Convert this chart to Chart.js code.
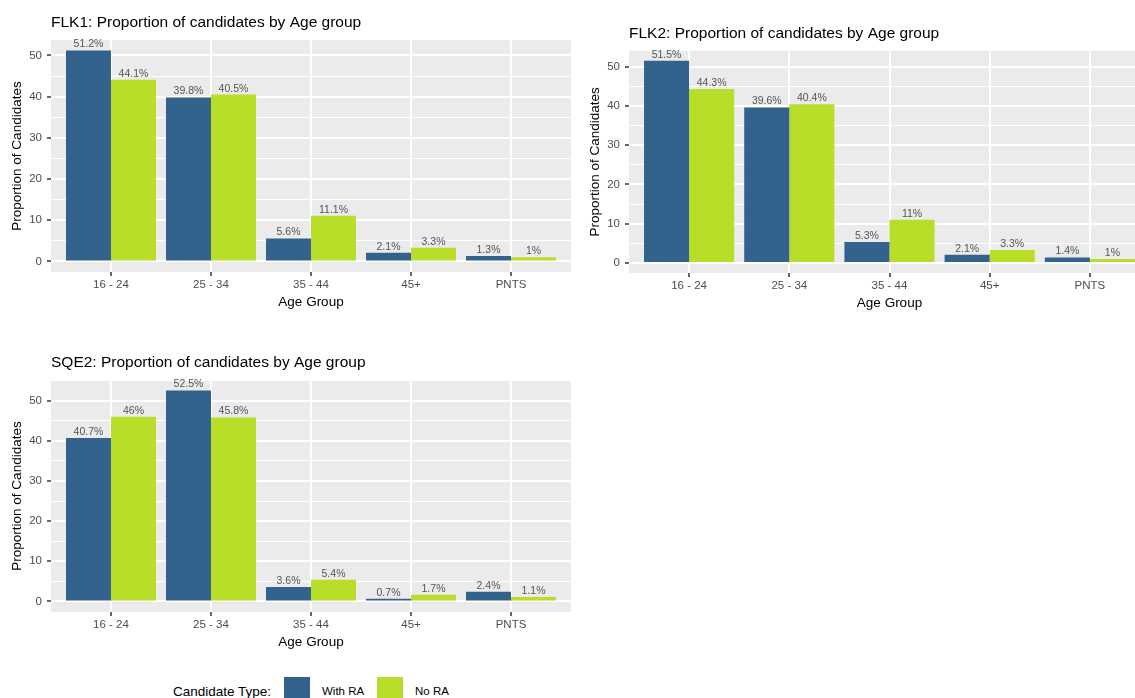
<!DOCTYPE html>
<html>
<head>
<meta charset="utf-8">
<script src="https://cdn.jsdelivr.net/npm/chart.js@4.4.1/dist/chart.umd.min.js"></script>
<style>
  html, body { margin:0; padding:0; background:#ffffff; width:1135px; height:698px; overflow:hidden; position:relative; }
  canvas { position:absolute; display:block; }
  .lg { position:absolute; font-family:"Liberation Sans", Arial, sans-serif; white-space:nowrap; line-height:1; }
  .key { position:absolute; width:26px; height:26px; }
</style>
</head>
<body>
<canvas id="c1" width="571" height="310" style="left:0px;top:0px"></canvas>
<canvas id="c2" width="572" height="311" style="left:578px;top:0px"></canvas>
<canvas id="c3" width="571" height="310" style="left:0px;top:340px"></canvas>

<div class="lg" id="lgTitle" style="left:173px;top:685px;font-size:13.5px;color:#000">Candidate Type:</div>
<div class="key" id="key1" style="left:284px;top:677px"></div>
<div class="lg" id="lgLab1" style="left:322px;top:686px;font-size:11.5px;color:#000"></div>
<div class="key" id="key2" style="left:377px;top:677px"></div>
<div class="lg" id="lgLab2" style="left:415px;top:686px;font-size:11.5px;color:#000"></div>

<script>
// ---------- data ----------
const categories = ['16 - 24', '25 - 34', '35 - 44', '45+', 'PNTS'];
const seriesNames = ['With RA', 'No RA'];
const seriesColors = ['#33638D', '#B8DE29'];

const flk1WithRA = [51.2, 39.8, 5.6, 2.1, 1.3];
const flk1NoRA   = [44.1, 40.5, 11.1, 3.3, 1];
const flk2WithRA = [51.5, 39.6, 5.3, 2.1, 1.4];
const flk2NoRA   = [44.3, 40.4, 11, 3.3, 1];
const sqe2WithRA = [40.7, 52.5, 3.6, 0.7, 2.4];
const sqe2NoRA   = [46, 45.8, 5.4, 1.7, 1.1];

const yMajorTicks = [0, 10, 20, 30, 40, 50];
const yMinorTicks = [5, 15, 25, 35, 45, 55];

const titleFLK1 = 'FLK1: Proportion of candidates by Age group';
const titleFLK2 = 'FLK2: Proportion of candidates by Age group';
const titleSQE2 = 'SQE2: Proportion of candidates by Age group';
const xTitle = 'Age Group';
const yTitle = 'Proportion of Candidates';

// ---------- legend (html text) ----------
document.getElementById('key1').style.background = seriesColors[0];
document.getElementById('key2').style.background = seriesColors[1];
document.getElementById('lgLab1').textContent = seriesNames[0];
document.getElementById('lgLab2').textContent = seriesNames[1];

// ---------- chart helpers ----------
const FONT = '"Liberation Sans", Arial, Helvetica, sans-serif';
Chart.defaults.font.family = FONT;

const panelBg = {
  id: 'panelBg',
  beforeDraw(chart) {
    const { ctx, chartArea: a } = chart;
    ctx.save();
    ctx.fillStyle = '#EBEBEB';
    ctx.fillRect(a.left, a.top, a.right - a.left, a.bottom - a.top);
    ctx.restore();
  }
};

const valueLabels = {
  id: 'valueLabels',
  afterDatasetsDraw(chart) {
    const ctx = chart.ctx;
    ctx.save();
    ctx.font = '10.5px ' + FONT;
    ctx.fillStyle = '#555555';
    ctx.textAlign = 'center';
    ctx.textBaseline = 'middle';
    chart.data.datasets.forEach((ds, di) => {
      chart.getDatasetMeta(di).data.forEach((bar, i) => {
        ctx.fillText(String(ds.data[i].y) + '%', bar.x, bar.y - 6);
      });
    });
    ctx.restore();
  }
};

function makePanel(canvasId, title, withRA, noRA, titlePad) {
  const maxVal = Math.max(...withRA, ...noRA);
  const yMin = -0.05 * maxVal;
  const yMax = 1.05 * maxVal;
  const isMajor = v => yMajorTicks.includes(v);
  const toPts = arr => arr.map((v, i) => ({ x: i + 1, y: v }));

  return new Chart(document.getElementById(canvasId), {
    type: 'bar',
    data: {
      datasets: [
        { label: seriesNames[0], data: toPts(withRA), backgroundColor: seriesColors[0], borderWidth: 0,
          categoryPercentage: 0.9, barPercentage: 1.0 },
        { label: seriesNames[1], data: toPts(noRA), backgroundColor: seriesColors[1], borderWidth: 0,
          categoryPercentage: 0.9, barPercentage: 1.0 }
      ]
    },
    options: {
      responsive: false,
      animation: false,
      layout: { padding: 0 },
      plugins: {
        legend: { display: false },
        tooltip: { enabled: false },
        title: {
          display: true, text: title, align: 'start', fullSize: false,
          color: '#000000', font: { size: 15.5, weight: 'normal', family: FONT },
          padding: titlePad
        }
      },
      scales: {
        x: {
          type: 'linear',
          min: 0.4,
          max: categories.length + 0.6,
          offset: false,
          afterBuildTicks: s => { s.ticks = categories.map((c, i) => ({ value: i + 1 })); },
          afterFit: s => { s.height = 38; },
          border: { display: false },
          grid: { color: '#FFFFFF', lineWidth: 2, offset: false, drawTicks: true,
                  tickLength: 4, tickColor: '#333333', tickWidth: 1.5 },
          ticks: { padding: 2.4, color: '#4D4D4D', font: { size: 11.5, family: FONT },
                   autoSkip: false, maxRotation: 0,
                   callback: v => categories[Math.round(v) - 1] },
          title: { display: true, text: xTitle, color: '#000000',
                   font: { size: 13.5, family: FONT }, padding: { top: 0, bottom: 0 } }
        },
        y: {
          type: 'linear',
          min: yMin,
          max: yMax,
          afterBuildTicks: s => {
            s.ticks = yMajorTicks.concat(yMinorTicks).filter(v => v >= yMin && v <= yMax)
              .sort((a, b) => a - b).map(v => ({ value: v }));
          },
          afterFit: s => { s.width = 51; },
          border: { display: false },
          grid: {
            color: '#FFFFFF',
            lineWidth: c => (c.tick && isMajor(c.tick.value)) ? 2 : 1,
            drawTicks: true, tickLength: 4,
            tickColor: c => (c.tick && isMajor(c.tick.value)) ? '#333333' : 'rgba(0,0,0,0)',
            tickWidth: 1.5
          },
          ticks: { padding: 5, color: '#4D4D4D', font: { size: 11.5, family: FONT },
                   callback: v => isMajor(v) ? String(v) : '' },
          title: { display: true, text: yTitle, color: '#000000',
                   font: { size: 13.5, family: FONT }, padding: { top: 8.9, bottom: 0 } }
        }
      }
    },
    plugins: [panelBg, valueLabels]
  });
}

makePanel('c1', titleFLK1, flk1WithRA, flk1NoRA, { top: 13.4, bottom: 8 });
makePanel('c2', titleFLK2, flk2WithRA, flk2NoRA, { top: 24.7, bottom: 7.4 });
makePanel('c3', titleSQE2, sqe2WithRA, sqe2NoRA, { top: 13.4, bottom: 8 });
</script>
</body>
</html>
